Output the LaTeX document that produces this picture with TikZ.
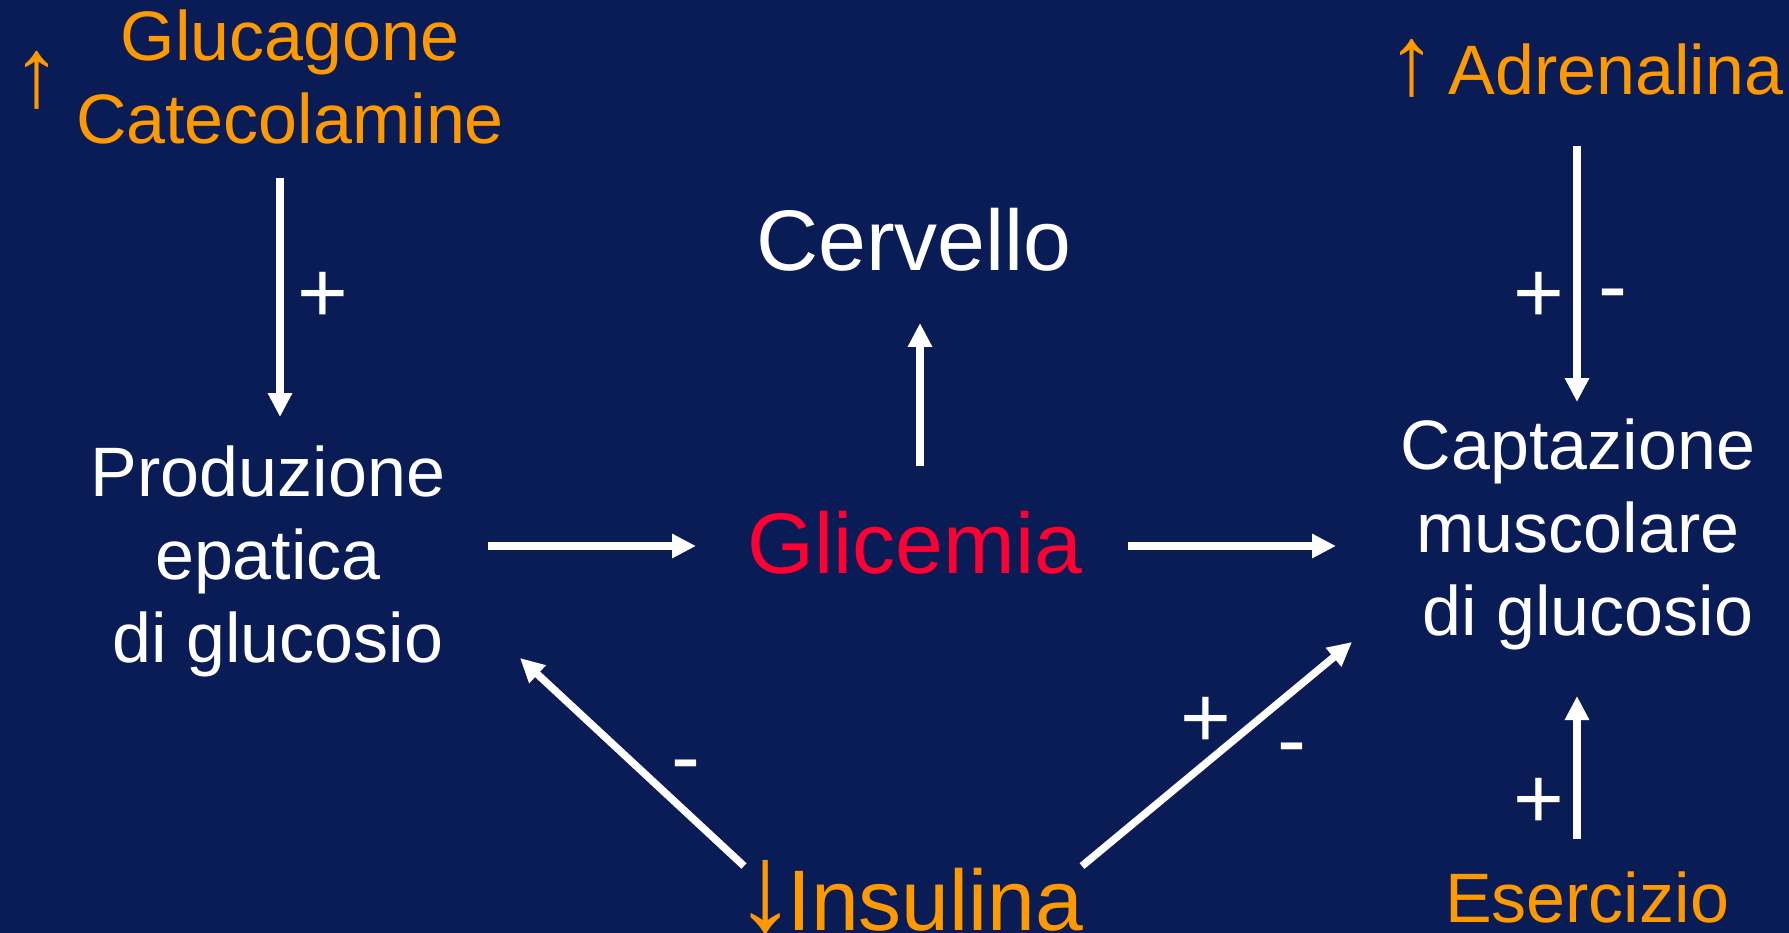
\documentclass[tikz,border=0pt]{standalone}
\usepackage{graphicx}
\usepackage{fontspec}
\setmainfont{Liberation Sans}
\usetikzlibrary{arrows.meta}
\definecolor{slide}{RGB}{10,28,86}
\definecolor{hormon}{RGB}{255,153,0}
\definecolor{glyc}{RGB}{255,0,51}
\newcommand{\upar}{\scalebox{1.4}{↑}}
\newcommand{\dnar}{\scalebox{1.45}{↓}}

\begin{document}
\begin{tikzpicture}[x=1pt, y=-1pt, >={Triangle[length=24pt,width=23pt]},
  txt/.style={inner sep=0pt, anchor=base, align=center, text=white,
    font=\fontsize{70}{83}\selectfont},
  big/.style={txt, font=\fontsize{86}{100}\selectfont},
  horm/.style={txt, text=hormon},
  sign/.style={txt, font=\fontsize{87}{100}\selectfont},
  link/.style={->, white, line width=7.5pt}]
\fill[slide] (0,0) rectangle (1789,933);
\useasboundingbox (0,0) rectangle (1789,933);
% texts (base of a multi-line node is its last line)
\node[horm] (gc) at (290,144) {Glucagone\\Catecolamine};
\node[horm] (upL) at (37,107) {\upar};
\node[horm, anchor=base west] (adr) at (1394,95) {\makebox[35pt]{\upar} Adrenalina};
\node[big] (cerv) at (914,271) {Cervello};
\node[big, text=glyc] (glic) at (915,573) {Glicemia};
\node[txt] (prod) at (268,662) {Produzione\\epatica\\\ di glucosio};
\node[txt] (capt) at (1578,635) {Captazione\\muscolare\\\ di glucosio};
\node[horm] (eser) at (1587,922) {Esercizio};
\node[big, text=hormon, anchor=base west] (ins) at (743,930) {\makebox[44pt]{\dnar}Insulina};
% arrow ends
\coordinate (gcB) at (280,178);   \coordinate (prodT) at (280,417);
\coordinate (prodR) at (488,546); \coordinate (glicL) at (696,546);
\coordinate (glicT) at (920,466); \coordinate (cervB) at (920,323);
\coordinate (glicR) at (1128,546); \coordinate (captL) at (1336,546);
\coordinate (adrB) at (1577,146); \coordinate (captT) at (1577,402);
\coordinate (eserT) at (1577,839); \coordinate (captB) at (1577,696);
\coordinate (insL) at (744,866); \coordinate (prodBR) at (520,658);
\coordinate (insR) at (1082,866); \coordinate (captBL) at (1352,642);
\draw[link] (gcB) -- (prodT);
\draw[link] (prodR) -- (glicL);
\draw[link] (glicT) -- (cervB);
\draw[link] (glicR) -- (captL);
\draw[link] (adrB) -- (captT);
\draw[link] (eserT) -- (captB);
\draw[link] (insL) -- (prodBR);
\draw[link] (insR) -- (captBL);
% signs
\foreach \n/\x/\y/\s in {p1/323/323/+, p2/1539/323/+, m2/1613/316/-,
    p3/1539/828/+, m4/686/786/-, p5/1206/747/+, m5/1292/769/-}
  \node[sign] (\n) at (\x,\y) {\s};
\end{tikzpicture}
\end{document}
